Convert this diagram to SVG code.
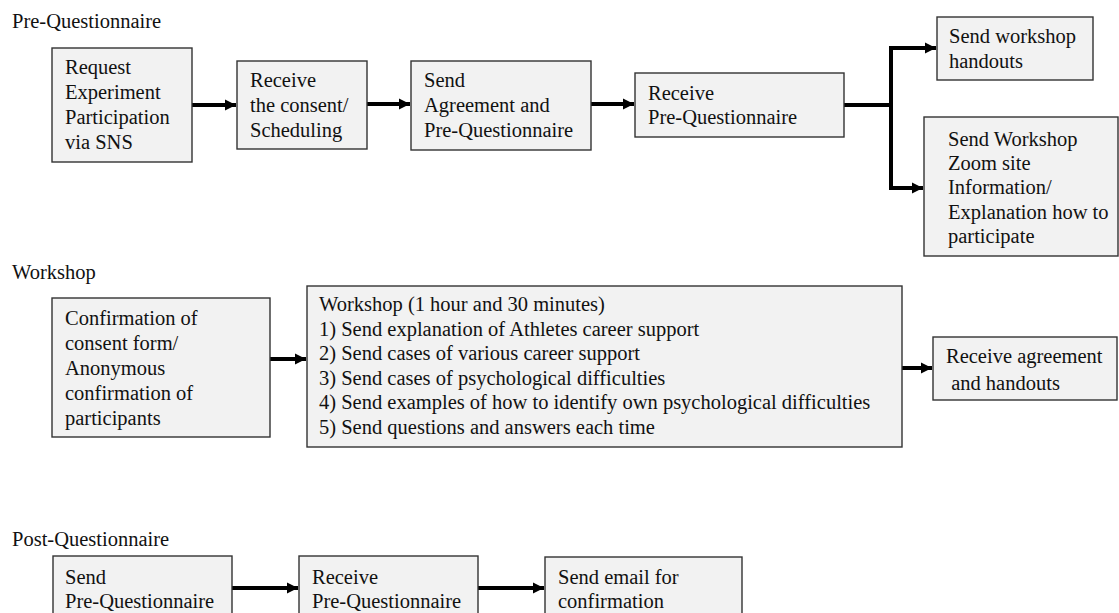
<svg xmlns="http://www.w3.org/2000/svg" width="1119" height="613" viewBox="0 0 1119 613">
<style>
text{font-family:"Liberation Serif","Times New Roman",serif;font-size:20.5px;fill:#111}
.box{fill:#f2f2f2;stroke:#333;stroke-width:1.4}
.con{stroke:#000;stroke-width:4;fill:none}
</style>
<defs>
<marker id="ah" markerUnits="userSpaceOnUse" markerWidth="12" markerHeight="12" refX="11" refY="6" orient="auto">
<path d="M0,0.5 L11,6 L0,11.5 z" fill="#000"/>
</marker>
</defs>
<rect width="1119" height="613" fill="#fff"/>
<text x="12" y="28">Pre-Questionnaire</text>
<text x="12" y="279">Workshop</text>
<text x="12" y="546">Post-Questionnaire</text>

<g id="connectors">
<line class="con" x1="192" y1="105" x2="236" y2="105" marker-end="url(#ah)"/>
<line class="con" x1="367" y1="104" x2="410" y2="104" marker-end="url(#ah)"/>
<line class="con" x1="591" y1="104" x2="634" y2="104" marker-end="url(#ah)"/>
<path class="con" d="M844,105 H891 M891,46 V190"/>
<line class="con" x1="889" y1="48" x2="936" y2="48" marker-end="url(#ah)"/>
<line class="con" x1="889" y1="188" x2="923" y2="188" marker-end="url(#ah)"/>
<line class="con" x1="270" y1="359" x2="306" y2="359" marker-end="url(#ah)"/>
<line class="con" x1="902" y1="368" x2="932" y2="368" marker-end="url(#ah)"/>
<line class="con" x1="232" y1="588" x2="298" y2="588" marker-end="url(#ah)"/>
<line class="con" x1="478" y1="588" x2="544" y2="588" marker-end="url(#ah)"/>
</g>

<g id="n1"><rect class="box" x="52" y="48" width="140" height="114"/>
<text x="65" y="74">Request</text><text x="65" y="99">Experiment</text><text x="65" y="124">Participation</text><text x="65" y="149">via SNS</text></g>
<g id="n2"><rect class="box" x="237" y="61" width="130" height="88"/>
<text x="250" y="87">Receive</text><text x="250" y="112">the consent/</text><text x="250" y="137">Scheduling</text></g>
<g id="n3"><rect class="box" x="411" y="61" width="180" height="89"/>
<text x="424" y="87">Send</text><text x="424" y="112">Agreement and</text><text x="424" y="137">Pre-Questionnaire</text></g>
<g id="n4"><rect class="box" x="635" y="73" width="209" height="64"/>
<text x="648" y="100">Receive</text><text x="648" y="124">Pre-Questionnaire</text></g>
<g id="n5"><rect class="box" x="937" y="17" width="156" height="63"/>
<text x="949" y="43">Send workshop</text><text x="949" y="68">handouts</text></g>
<g id="n6"><rect class="box" x="924" y="117" width="194" height="139"/>
<text x="948" y="146">Send Workshop</text><text x="948" y="170">Zoom site</text><text x="948" y="194">Information/</text><text x="948" y="219">Explanation how to</text><text x="948" y="243">participate</text></g>

<g id="n7"><rect class="box" x="52" y="298" width="218" height="139"/>
<text x="65" y="325">Confirmation of</text><text x="65" y="350">consent form/</text><text x="65" y="375">Anonymous</text><text x="65" y="400">confirmation of</text><text x="65" y="425">participants</text></g>
<g id="n8"><rect class="box" x="307" y="286" width="595" height="161"/>
<text x="319" y="311">Workshop (1 hour and 30 minutes)</text>
<text x="319" y="335.5">1) Send explanation of Athletes career support</text>
<text x="319" y="360">2) Send cases of various career support</text>
<text x="319" y="384.5">3) Send cases of psychological difficulties</text>
<text x="319" y="409">4) Send examples of how to identify own psychological difficulties</text>
<text x="319" y="433.5">5) Send questions and answers each time</text></g>
<g id="n9"><rect class="box" x="933" y="337" width="184" height="63"/>
<text x="946" y="363">Receive agreement</text><text x="946" y="390" xml:space="preserve"> and handouts</text></g>

<g id="n10"><rect class="box" x="53" y="556" width="179" height="70"/>
<text x="65" y="584">Send</text><text x="65" y="608">Pre-Questionnaire</text></g>
<g id="n11"><rect class="box" x="299" y="556" width="179" height="70"/>
<text x="312" y="584">Receive</text><text x="312" y="608">Pre-Questionnaire</text></g>
<g id="n12"><rect class="box" x="545" y="557" width="197" height="70"/>
<text x="558" y="584">Send email for</text><text x="558" y="608">confirmation</text></g>
</svg>
